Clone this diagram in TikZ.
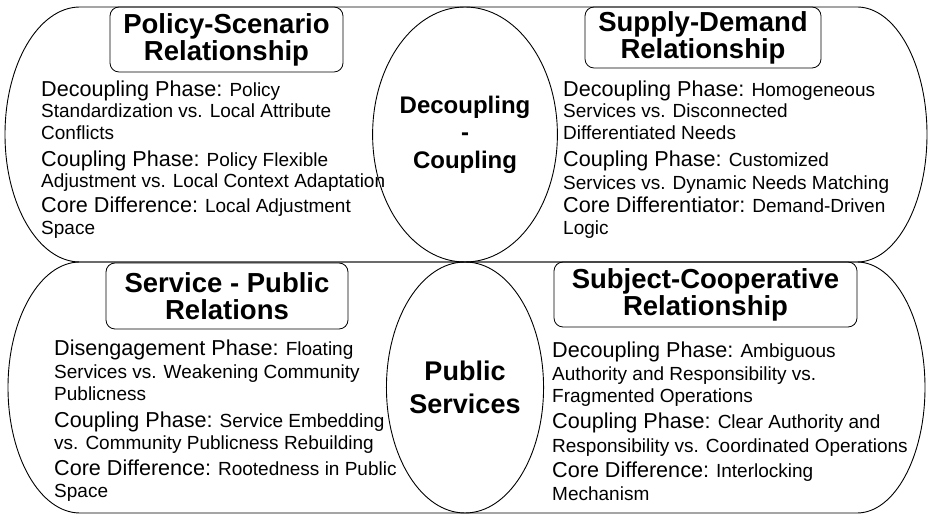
\documentclass[tikz,border=0pt]{standalone}
\usepackage{fontspec}
\setmainfont{Liberation Sans}
\usetikzlibrary{shapes.geometric}
\newcommand\hdtxt{\fontsize{21.6}{26}\selectfont}
\newcommand\smtxt{\fontsize{19}{22}\selectfont}
\newcommand\ttlfont{\fontsize{27.5}{27}\selectfont\bfseries}
\newcommand\hubAfont{\fontsize{24}{27.5}\selectfont\bfseries}
\newcommand\hubBfont{\fontsize{27}{33}\selectfont\bfseries}
\begin{document}
\begin{tikzpicture}[x=1pt,y=1pt,
  outline/.style={draw=black, line width=0.9pt},
  titlebox/.style={draw=black, line width=0.8pt, rounded corners=9pt, align=center, inner sep=0pt, font=\ttlfont},
  body/.style={anchor=base west, inner sep=0pt},
  hub/.style={ellipse, draw=black, line width=0.9pt, inner sep=0pt, align=center}]
\useasboundingbox (0,0) rectangle (929,516);

% bands
\draw[outline] (80,509) -- (857,509) arc[start angle=90,end angle=-90,x radius=70,y radius=127.5] -- (80,254) arc[start angle=270,end angle=90,x radius=75,y radius=127.5] -- cycle;
\draw[outline] (80,254) -- (857,254) arc[start angle=90,end angle=-90,x radius=68,y radius=125.5] -- (80,3) arc[start angle=270,end angle=90,x radius=72,y radius=125.5] -- cycle;

% hubs
\node[hub, minimum width=150, minimum height=255, font=\hubAfont] (dc) at (465,381.5) {Decoupling\\-\\Coupling};
\node[hub, minimum width=150, minimum height=251, font=\hubBfont] (ps) at (465,128.5) {Public\\Services};

% titles
\node[titlebox, minimum width=233, minimum height=65] (tlt) at (226.5,476.5) {Policy-Scenario\\Relationship};
\node[titlebox, minimum width=236, minimum height=61] (trt) at (703,478.5) {Supply-Demand\\Relationship};
\node[titlebox, minimum width=242, minimum height=66] (blt) at (227,220) {Service - Public\\Relations};
\node[titlebox, minimum width=303, minimum height=65] (brt) at (705.5,221.5) {Subject-Cooperative\\Relationship};

% top-left body
\node[body] (tl1) at (41,419) {\hdtxt Decoupling Phase:\smtxt{} Policy};
\node[body] (tl2) at (41,398) {\smtxt Standardization vs. Local Attribute};
\node[body] (tl3) at (41,376) {\smtxt Conflicts};
\node[body] (tl4) at (41,349) {\hdtxt Coupling Phase:\smtxt{} Policy Flexible};
\node[body] (tl5) at (41,328) {\smtxt Adjustment vs. Local Context Adaptation};
\node[body] (tl6) at (41,303) {\hdtxt Core Difference:\smtxt{} Local Adjustment};
\node[body] (tl7) at (41,281) {\smtxt Space};

% top-right body
\node[body] (tr1) at (563,419) {\hdtxt Decoupling Phase:\smtxt{} Homogeneous};
\node[body] (tr2) at (563,398) {\smtxt Services vs. Disconnected};
\node[body] (tr3) at (563,376) {\smtxt Differentiated Needs};
\node[body] (tr4) at (563,349) {\hdtxt Coupling Phase:\smtxt{} Customized};
\node[body] (tr5) at (563,326) {\smtxt Services vs. Dynamic Needs Matching};
\node[body] (tr6) at (563,303) {\hdtxt Core Differentiator:\smtxt{} Demand-Driven};
\node[body] (tr7) at (563,281) {\smtxt Logic};

% bottom-left body
\node[body] (bl1) at (54,160) {\hdtxt Disengagement Phase:\smtxt{} Floating};
\node[body] (bl2) at (54,137) {\smtxt Services vs. Weakening Community};
\node[body] (bl3) at (54,115) {\smtxt Publicness};
\node[body] (bl4) at (54,88) {\hdtxt Coupling Phase:\smtxt{} Service Embedding};
\node[body] (bl5) at (54,66) {\smtxt vs. Community Publicness Rebuilding};
\node[body] (bl6) at (54,40) {\hdtxt Core Difference:\smtxt{} Rootedness in Public};
\node[body] (bl7) at (54,18) {\smtxt Space};

% bottom-right body
\node[body] (br1) at (552,158) {\hdtxt Decoupling Phase:\smtxt{} Ambiguous};
\node[body] (br2) at (552,135) {\smtxt Authority and Responsibility vs.};
\node[body] (br3) at (552,113) {\smtxt Fragmented Operations};
\node[body] (br4) at (552,87) {\hdtxt Coupling Phase:\smtxt{} Clear Authority and};
\node[body] (br5) at (552,63) {\smtxt Responsibility vs. Coordinated Operations};
\node[body] (br6) at (552,38) {\hdtxt Core Difference:\smtxt{} Interlocking};
\node[body] (br7) at (552,15) {\smtxt Mechanism};
\end{tikzpicture}
\end{document}
